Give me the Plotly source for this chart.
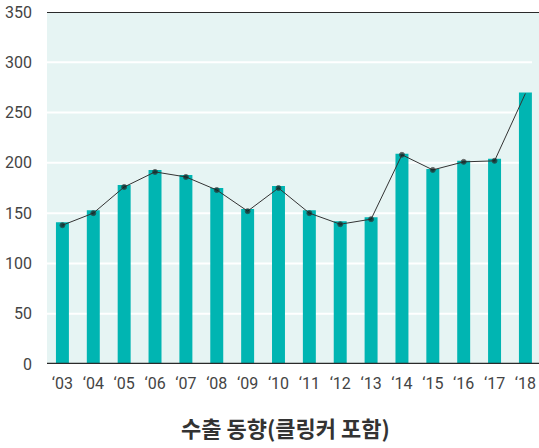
import plotly.graph_objects as go

years = ["‘03", "‘04", "‘05", "‘06", "‘07", "‘08", "‘09", "‘10",
         "‘11", "‘12", "‘13", "‘14", "‘15", "‘16", "‘17", "‘18"]
bar_values = [141, 153, 178, 193, 188, 175, 154, 177, 153, 142, 146, 209, 194, 202, 204, 270]
line_values = [138, 150, 176, 191, 186, 173, 152, 175, 150, 139, 144, 208, 193, 201, 202, 269]
y_ticks = [0, 50, 100, 150, 200, 250, 300, 350]
title_text = "수출 동향(클링커 포함)"

FONT = "Roboto, sans-serif"
GRID_END = (532 - 47) / (539 - 47)

fig = go.Figure()
fig.add_trace(go.Bar(
    x=list(range(len(years))), y=bar_values, width=0.42,
    marker=dict(color="#00B5B2", line=dict(width=0)),
    hoverinfo="skip", showlegend=False,
))
fig.add_trace(go.Scatter(
    x=list(range(len(years))), y=line_values, mode="lines+markers",
    line=dict(color="#333333", width=1),
    marker=dict(color="#1a1a1a", size=[5] * (len(years) - 1) + [0]),
    showlegend=False,
))

shapes = [
    dict(type="rect", xref="paper", yref="y", x0=0, x1=1, y0=0, y1=350,
         fillcolor="#E6F4F3", line=dict(width=0), layer="below"),
]
for t in y_ticks[1:-1]:
    shapes.append(dict(type="line", xref="paper", yref="y", x0=0, x1=GRID_END,
                       y0=t, y1=t, line=dict(color="white", width=2), layer="below"))
shapes += [
    dict(type="line", xref="paper", yref="y", x0=0, x1=1, y0=350, y1=350,
         line=dict(color="#2a2a2a", width=2), layer="above"),
    dict(type="line", xref="paper", yref="y", x0=0, x1=1, y0=0, y1=0,
         line=dict(color="#2a2a2a", width=2.5), layer="above"),
]

fig.update_layout(
    width=539, height=448,
    margin=dict(l=47, r=0, t=12, b=84, autoexpand=False),
    paper_bgcolor="white", plot_bgcolor="rgba(0,0,0,0)",
    font=dict(family=FONT, color="#444444", size=16),
    xaxis=dict(
        range=[-0.5, 15.44], tickmode="array",
        tickvals=list(range(len(years))), ticktext=years,
        showgrid=False, zeroline=False, showline=False, ticks="",
        ticklabelstandoff=8, tickfont=dict(size=16), automargin=False,
    ),
    yaxis=dict(
        range=[0, 350], tickmode="array", tickvals=y_ticks,
        showgrid=False, zeroline=False, showline=False, ticks="",
        ticklabelstandoff=14, tickfont=dict(size=16), automargin=False,
    ),
    shapes=shapes,
    annotations=[dict(
        text="<b>" + title_text + "</b>", xref="paper", yref="paper",
        x=(285 - 47) / (539 - 47), y=0, yshift=-81, yanchor="bottom", showarrow=False,
        font=dict(family="Noto Sans CJK KR, sans-serif", size=22, color="#333333"),
    )],
)

fig.write_html(
    "out.html",
    config={"displayModeBar": False},
    post_script="document.body.style.margin='0';document.body.style.overflow='hidden';",
)
